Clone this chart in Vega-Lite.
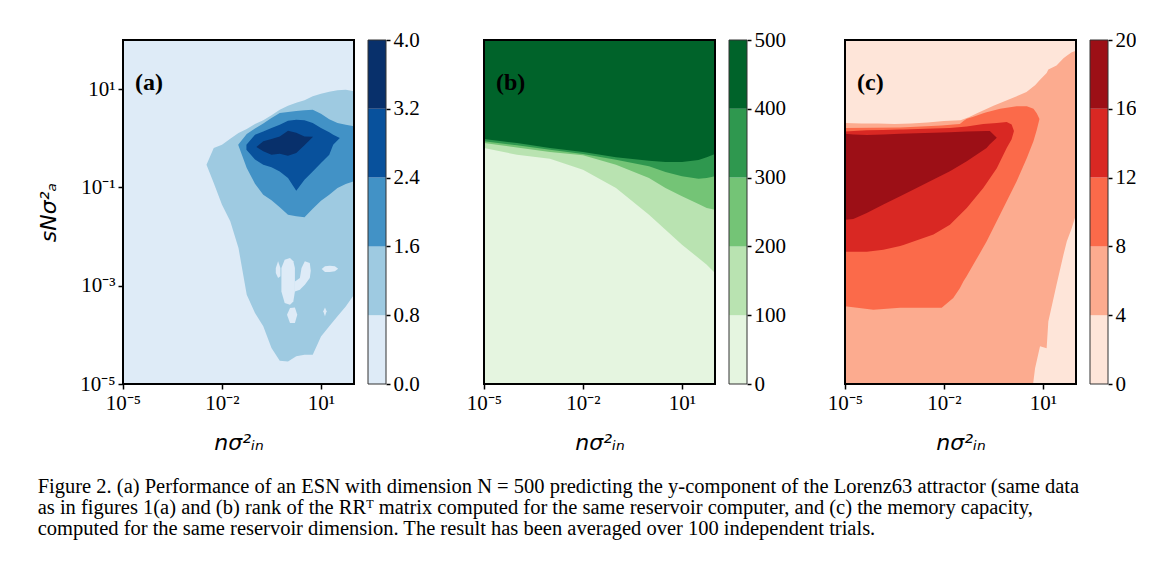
{
  "$schema": "https://vega.github.io/schema/vega-lite/v6.json",
  "background": "white",
  "padding": {"left": 37, "top": 29, "right": 0, "bottom": 0},
  "config": {
    "view": {"stroke": null},
    "legend": {"disable": true},
    "axis": {"grid": false, "domain": false, "labelColor": "black", "tickColor": "black", "labelFont": "Liberation Serif", "labelFontSize": 21, "titleColor": "black", "labelFlush": false, "labelOverlap": false, "tickWidth": 1.5}
  },
  "datasets": {
    "regions": [
      {"level":"a1","part":"a1","x":0.00339,"lo":0.29,"hi":0.29},
      {"level":"a1","part":"a1","x":0.00562,"lo":0.123,"hi":0.634},
      {"level":"a1","part":"a1","x":0.01,"lo":0.0446,"hi":0.741},
      {"level":"a1","part":"a1","x":0.0178,"lo":0.0204,"hi":0.982},
      {"level":"a1","part":"a1","x":0.0316,"lo":0.00585,"hi":1.28},
      {"level":"a1","part":"a1","x":0.0562,"lo":0.000656,"hi":1.55},
      {"level":"a1","part":"a1","x":0.1,"lo":0.000278,"hi":1.95},
      {"level":"a1","part":"a1","x":0.178,"lo":0.000149,"hi":2.32},
      {"level":"a1","part":"a1","x":0.316,"lo":0.0000538,"hi":2.93},
      {"level":"a1","part":"a1","x":0.562,"lo":0.0000298,"hi":3.82},
      {"level":"a1","part":"a1","x":1,"lo":0.0000288,"hi":4.6},
      {"level":"a1","part":"a1","x":1.78,"lo":0.0000365,"hi":5.31},
      {"level":"a1","part":"a1","x":3.16,"lo":0.0000394,"hi":5.92},
      {"level":"a1","part":"a1","x":5.62,"lo":0.0000394,"hi":7.13},
      {"level":"a1","part":"a1","x":10,"lo":0.0000931,"hi":8.09},
      {"level":"a1","part":"a1","x":17.8,"lo":0.000149,"hi":8.87},
      {"level":"a1","part":"a1","x":31.6,"lo":0.000238,"hi":9.46},
      {"level":"a1","part":"a1","x":56.2,"lo":0.000379,"hi":9.75},
      {"level":"a1","part":"a1","x":100,"lo":0.000656,"hi":9.02},

      {"level":"a0","part":"h1","x":0.427,"lo":0.00181,"hi":0.00229},
      {"level":"a0","part":"h1","x":0.501,"lo":0.00143,"hi":0.00313},
      {"level":"a0","part":"h1","x":0.589,"lo":0.00155,"hi":0.00229},
      {"level":"a0","part":"h2","x":0.631,"lo":0.000767,"hi":0.00229},
      {"level":"a0","part":"h2","x":0.794,"lo":0.000444,"hi":0.00338},
      {"level":"a0","part":"h2","x":1.15,"lo":0.00041,"hi":0.00366},
      {"level":"a0","part":"h2","x":1.45,"lo":0.00048,"hi":0.00313},
      {"level":"a0","part":"h2","x":1.62,"lo":0.000767,"hi":0.00229},
      {"level":"a0","part":"h3","x":1.62,"lo":0.000767,"hi":0.00122},
      {"level":"a0","part":"h3","x":2.29,"lo":0.00083,"hi":0.00143},
      {"level":"a0","part":"h3","x":2.57,"lo":0.000897,"hi":0.00229},
      {"level":"a0","part":"h3","x":3.24,"lo":0.00105,"hi":0.00313},
      {"level":"a0","part":"h3","x":4.57,"lo":0.00143,"hi":0.00289},
      {"level":"a0","part":"h3","x":4.9,"lo":0.00202,"hi":0.00202},
      {"level":"a0","part":"h4","x":10.5,"lo":0.00218,"hi":0.00218},
      {"level":"a0","part":"h4","x":13.2,"lo":0.0019,"hi":0.00248},
      {"level":"a0","part":"h4","x":18.6,"lo":0.0019,"hi":0.00255},
      {"level":"a0","part":"h4","x":26.3,"lo":0.00196,"hi":0.00248},
      {"level":"a0","part":"h4","x":33.1,"lo":0.00222,"hi":0.00222},
      {"level":"a0","part":"h5","x":0.933,"lo":0.000257,"hi":0.000257},
      {"level":"a0","part":"h5","x":1.15,"lo":0.000174,"hi":0.000351},
      {"level":"a0","part":"h5","x":1.62,"lo":0.000174,"hi":0.000362},
      {"level":"a0","part":"h5","x":1.91,"lo":0.000257,"hi":0.000257},
      {"level":"a0","part":"h6","x":11.7,"lo":0.000301,"hi":0.000301},
      {"level":"a0","part":"h6","x":13.2,"lo":0.000238,"hi":0.000362},
      {"level":"a0","part":"h6","x":14.8,"lo":0.000301,"hi":0.000301},

      {"level":"a2","part":"a2","x":0.0309,"lo":0.741,"hi":0.741},
      {"level":"a2","part":"a2","x":0.0562,"lo":0.248,"hi":1.22},
      {"level":"a2","part":"a2","x":0.1,"lo":0.119,"hi":1.59},
      {"level":"a2","part":"a2","x":0.178,"lo":0.0711,"hi":2.01},
      {"level":"a2","part":"a2","x":0.316,"lo":0.0546,"hi":2.58},
      {"level":"a2","part":"a2","x":0.562,"lo":0.0393,"hi":3.27},
      {"level":"a2","part":"a2","x":1,"lo":0.0279,"hi":3.42},
      {"level":"a2","part":"a2","x":1.78,"lo":0.0258,"hi":3.59},
      {"level":"a2","part":"a2","x":3.16,"lo":0.0246,"hi":3.7},
      {"level":"a2","part":"a2","x":5.62,"lo":0.0369,"hi":3.82},
      {"level":"a2","part":"a2","x":10,"lo":0.0537,"hi":3.17},
      {"level":"a2","part":"a2","x":17.8,"lo":0.0711,"hi":2.43},
      {"level":"a2","part":"a2","x":31.6,"lo":0.0973,"hi":2.05},
      {"level":"a2","part":"a2","x":56.2,"lo":0.117,"hi":1.89},
      {"level":"a2","part":"a2","x":100,"lo":0.133,"hi":1.75},

      {"level":"a3","part":"a3","x":0.055,"lo":0.586,"hi":0.741},
      {"level":"a3","part":"a3","x":0.1,"lo":0.372,"hi":1.18},
      {"level":"a3","part":"a3","x":0.178,"lo":0.29,"hi":1.38},
      {"level":"a3","part":"a3","x":0.316,"lo":0.256,"hi":1.62},
      {"level":"a3","part":"a3","x":0.562,"lo":0.212,"hi":1.89},
      {"level":"a3","part":"a3","x":1,"lo":0.155,"hi":2.28},
      {"level":"a3","part":"a3","x":1.78,"lo":0.0859,"hi":2.39},
      {"level":"a3","part":"a3","x":3.16,"lo":0.144,"hi":2.32},
      {"level":"a3","part":"a3","x":5.62,"lo":0.212,"hi":2.05},
      {"level":"a3","part":"a3","x":10,"lo":0.314,"hi":1.62},
      {"level":"a3","part":"a3","x":17.8,"lo":0.463,"hi":1.32},
      {"level":"a3","part":"a3","x":23.4,"lo":0.741,"hi":1.18},
      {"level":"a3","part":"a3","x":37.2,"lo":1.01,"hi":1.01},

      {"level":"a4","part":"a4","x":0.11,"lo":0.664,"hi":0.664},
      {"level":"a4","part":"a4","x":0.178,"lo":0.542,"hi":0.867},
      {"level":"a4","part":"a4","x":0.316,"lo":0.463,"hi":0.966},
      {"level":"a4","part":"a4","x":0.562,"lo":0.486,"hi":1.09},
      {"level":"a4","part":"a4","x":1,"lo":0.443,"hi":1.43},
      {"level":"a4","part":"a4","x":1.78,"lo":0.501,"hi":1.3},
      {"level":"a4","part":"a4","x":3.16,"lo":0.718,"hi":1.09},
      {"level":"a4","part":"a4","x":5.75,"lo":1.08,"hi":1.08},

      {"level":"b1","part":"b1","x":0.00001,"lo":0.634,"hi":100},
      {"level":"b1","part":"b1","x":0.0001,"lo":0.463,"hi":100},
      {"level":"b1","part":"b1","x":0.001,"lo":0.385,"hi":100},
      {"level":"b1","part":"b1","x":0.01,"lo":0.23,"hi":100},
      {"level":"b1","part":"b1","x":0.1,"lo":0.0973,"hi":100},
      {"level":"b1","part":"b1","x":1,"lo":0.0279,"hi":100},
      {"level":"b1","part":"b1","x":3.16,"lo":0.0138,"hi":100},
      {"level":"b1","part":"b1","x":10,"lo":0.00684,"hi":100},
      {"level":"b1","part":"b1","x":31.6,"lo":0.00366,"hi":100},
      {"level":"b1","part":"b1","x":56.2,"lo":0.00267,"hi":100},
      {"level":"b1","part":"b1","x":100,"lo":0.00181,"hi":100},

      {"level":"b2","part":"b2","x":0.00001,"lo":0.802,"hi":100},
      {"level":"b2","part":"b2","x":0.0001,"lo":0.653,"hi":100},
      {"level":"b2","part":"b2","x":0.001,"lo":0.525,"hi":100},
      {"level":"b2","part":"b2","x":0.01,"lo":0.45,"hi":100},
      {"level":"b2","part":"b2","x":0.1,"lo":0.29,"hi":100},
      {"level":"b2","part":"b2","x":1,"lo":0.155,"hi":100},
      {"level":"b2","part":"b2","x":3.16,"lo":0.0973,"hi":100},
      {"level":"b2","part":"b2","x":10,"lo":0.0658,"hi":100},
      {"level":"b2","part":"b2","x":31.6,"lo":0.0459,"hi":100},
      {"level":"b2","part":"b2","x":56.2,"lo":0.0381,"hi":100},
      {"level":"b2","part":"b2","x":100,"lo":0.0352,"hi":100},

      {"level":"b3","part":"b3","x":0.00001,"lo":0.867,"hi":100},
      {"level":"b3","part":"b3","x":0.0001,"lo":0.718,"hi":100},
      {"level":"b3","part":"b3","x":0.001,"lo":0.586,"hi":100},
      {"level":"b3","part":"b3","x":0.01,"lo":0.479,"hi":100},
      {"level":"b3","part":"b3","x":0.1,"lo":0.366,"hi":100},
      {"level":"b3","part":"b3","x":1,"lo":0.269,"hi":100},
      {"level":"b3","part":"b3","x":3.16,"lo":0.206,"hi":100},
      {"level":"b3","part":"b3","x":10,"lo":0.168,"hi":100},
      {"level":"b3","part":"b3","x":31.6,"lo":0.151,"hi":100},
      {"level":"b3","part":"b3","x":56.2,"lo":0.155,"hi":100},
      {"level":"b3","part":"b3","x":100,"lo":0.168,"hi":100},

      {"level":"b4","part":"b4","x":0.00001,"lo":0.966,"hi":100},
      {"level":"b4","part":"b4","x":0.0001,"lo":0.802,"hi":100},
      {"level":"b4","part":"b4","x":0.001,"lo":0.634,"hi":100},
      {"level":"b4","part":"b4","x":0.01,"lo":0.525,"hi":100},
      {"level":"b4","part":"b4","x":0.1,"lo":0.409,"hi":100},
      {"level":"b4","part":"b4","x":1,"lo":0.35,"hi":100},
      {"level":"b4","part":"b4","x":3.16,"lo":0.329,"hi":100},
      {"level":"b4","part":"b4","x":10,"lo":0.329,"hi":100},
      {"level":"b4","part":"b4","x":31.6,"lo":0.361,"hi":100},
      {"level":"b4","part":"b4","x":56.2,"lo":0.409,"hi":100},
      {"level":"b4","part":"b4","x":100,"lo":0.479,"hi":100},

      {"level":"c1","part":"c1","x":0.00001,"lo":0.00001,"hi":2.04},
      {"level":"c1","part":"c1","x":0.0000316,"lo":0.00001,"hi":2.0},
      {"level":"c1","part":"c1","x":0.0001,"lo":0.00001,"hi":2.0},
      {"level":"c1","part":"c1","x":0.000316,"lo":0.00001,"hi":1.95},
      {"level":"c1","part":"c1","x":0.001,"lo":0.00001,"hi":2.0},
      {"level":"c1","part":"c1","x":0.00316,"lo":0.00001,"hi":2.09},
      {"level":"c1","part":"c1","x":0.01,"lo":0.00001,"hi":2.24},
      {"level":"c1","part":"c1","x":0.0316,"lo":0.00001,"hi":2.34},
      {"level":"c1","part":"c1","x":0.0562,"lo":0.00001,"hi":2.69},
      {"level":"c1","part":"c1","x":0.1,"lo":0.00001,"hi":3.24},
      {"level":"c1","part":"c1","x":0.316,"lo":0.00001,"hi":4.57},
      {"level":"c1","part":"c1","x":1,"lo":0.00001,"hi":6.31},
      {"level":"c1","part":"c1","x":3.16,"lo":0.00001,"hi":8.71},
      {"level":"c1","part":"c1","x":5.01,"lo":0.00001,"hi":11.2},
      {"level":"c1","part":"c1","x":5.75,"lo":0.0000209,"hi":12.0},
      {"level":"c1","part":"c1","x":8.13,"lo":0.0000589,"hi":15.5},
      {"level":"c1","part":"c1","x":12.9,"lo":0.0000537,"hi":21.4},
      {"level":"c1","part":"c1","x":14.5,"lo":0.000186,"hi":25.1},
      {"level":"c1","part":"c1","x":25.7,"lo":0.00105,"hi":30.2},
      {"level":"c1","part":"c1","x":41.7,"lo":0.00427,"hi":42.7},
      {"level":"c1","part":"c1","x":52.5,"lo":0.00794,"hi":47.9},
      {"level":"c1","part":"c1","x":74.1,"lo":0.0148,"hi":56.2},
      {"level":"c1","part":"c1","x":100,"lo":0.0282,"hi":60.3},

      {"level":"c2","part":"c2","x":0.00001,"lo":0.00038,"hi":1.62},
      {"level":"c2","part":"c2","x":0.0000724,"lo":0.000324,"hi":1.64},
      {"level":"c2","part":"c2","x":0.000468,"lo":0.000355,"hi":1.66},
      {"level":"c2","part":"c2","x":0.00851,"lo":0.000355,"hi":1.82},
      {"level":"c2","part":"c2","x":0.0191,"lo":0.000562,"hi":1.91},
      {"level":"c2","part":"c2","x":0.0302,"lo":0.000891,"hi":1.95},
      {"level":"c2","part":"c2","x":0.0389,"lo":0.00123,"hi":2.24},
      {"level":"c2","part":"c2","x":0.049,"lo":0.00158,"hi":2.51},
      {"level":"c2","part":"c2","x":0.0776,"lo":0.00269,"hi":2.75},
      {"level":"c2","part":"c2","x":0.155,"lo":0.00603,"hi":3.24},
      {"level":"c2","part":"c2","x":0.195,"lo":0.00794,"hi":3.39},
      {"level":"c2","part":"c2","x":0.501,"lo":0.0282,"hi":3.98},
      {"level":"c2","part":"c2","x":1.58,"lo":0.132,"hi":4.47},
      {"level":"c2","part":"c2","x":3.24,"lo":0.398,"hi":4.47},
      {"level":"c2","part":"c2","x":5.13,"lo":0.871,"hi":3.98},
      {"level":"c2","part":"c2","x":6.46,"lo":1.48,"hi":3.24},
      {"level":"c2","part":"c2","x":7.76,"lo":2.4,"hi":2.51},

      {"level":"c3","part":"c3","x":0.00001,"lo":0.0049,"hi":1.38},
      {"level":"c3","part":"c3","x":0.0000457,"lo":0.0049,"hi":1.45},
      {"level":"c3","part":"c3","x":0.000145,"lo":0.00537,"hi":1.48},
      {"level":"c3","part":"c3","x":0.000468,"lo":0.00646,"hi":1.51},
      {"level":"c3","part":"c3","x":0.000589,"lo":0.00676,"hi":1.51},
      {"level":"c3","part":"c3","x":0.00479,"lo":0.011,"hi":1.58},
      {"level":"c3","part":"c3","x":0.0151,"lo":0.0174,"hi":1.62},
      {"level":"c3","part":"c3","x":0.049,"lo":0.038,"hi":1.74},
      {"level":"c3","part":"c3","x":0.155,"lo":0.0977,"hi":1.95},
      {"level":"c3","part":"c3","x":0.398,"lo":0.245,"hi":2.04},
      {"level":"c3","part":"c3","x":0.794,"lo":0.631,"hi":2.14},
      {"level":"c3","part":"c3","x":1.12,"lo":0.955,"hi":1.91},
      {"level":"c3","part":"c3","x":1.32,"lo":1.41,"hi":1.41},

      {"level":"c4","part":"c4","x":0.00001,"lo":0.0219,"hi":1.23},
      {"level":"c4","part":"c4","x":0.0000178,"lo":0.0229,"hi":1.2},
      {"level":"c4","part":"c4","x":0.0000457,"lo":0.0302,"hi":1.17},
      {"level":"c4","part":"c4","x":0.000145,"lo":0.0447,"hi":1.2},
      {"level":"c4","part":"c4","x":0.000468,"lo":0.0661,"hi":1.23},
      {"level":"c4","part":"c4","x":0.00148,"lo":0.0977,"hi":1.26},
      {"level":"c4","part":"c4","x":0.00479,"lo":0.145,"hi":1.29},
      {"level":"c4","part":"c4","x":0.0151,"lo":0.214,"hi":1.32},
      {"level":"c4","part":"c4","x":0.049,"lo":0.339,"hi":1.38},
      {"level":"c4","part":"c4","x":0.195,"lo":0.631,"hi":1.4},
      {"level":"c4","part":"c4","x":0.245,"lo":0.759,"hi":1.41},
      {"level":"c4","part":"c4","x":0.398,"lo":1.02,"hi":1.02}
    ],
    "bars": [
      {"panel":"a","level":"a0","lo":0,"hi":0.8},
      {"panel":"a","level":"a1","lo":0.8,"hi":1.6},
      {"panel":"a","level":"a2","lo":1.6,"hi":2.4},
      {"panel":"a","level":"a3","lo":2.4,"hi":3.2},
      {"panel":"a","level":"a4","lo":3.2,"hi":4.0},
      {"panel":"b","level":"b0","lo":0,"hi":100},
      {"panel":"b","level":"b1","lo":100,"hi":200},
      {"panel":"b","level":"b2","lo":200,"hi":300},
      {"panel":"b","level":"b3","lo":300,"hi":400},
      {"panel":"b","level":"b4","lo":400,"hi":500},
      {"panel":"c","level":"c0","lo":0,"hi":4},
      {"panel":"c","level":"c1","lo":4,"hi":8},
      {"panel":"c","level":"c2","lo":8,"hi":12},
      {"panel":"c","level":"c3","lo":12,"hi":16},
      {"panel":"c","level":"c4","lo":16,"hi":20}
    ],
    "labels": [
      {"panel":"a","label":"(a)"},
      {"panel":"b","label":"(b)"},
      {"panel":"c","label":"(c)"}
    ]
  },
  "title": {
    "text": [
      "Figure 2. (a) Performance of an ESN with dimension N = 500 predicting the y-component of the Lorenz63 attractor (same data",
      "as in figures 1(a) and (b) rank of the RRᵀ matrix computed for the same reservoir computer, and (c) the memory capacity,",
      "computed for the same reservoir dimension. The result has been averaged over 100 independent trials."
    ],
    "orient": "bottom",
    "anchor": "start",
    "frame": "bounds",
    "font": "Liberation Serif",
    "fontSize": 20.5,
    "fontWeight": "normal",
    "color": "black",
    "lineHeight": 21,
    "offset": 24
  },
  "spacing": 98,
  "bounds": "flush",
  "hconcat": [
    {
      "width": 263,
      "height": 344,
      "layer": [
        {
          "layer": [
            {
              "data": {"values": [{}]},
              "mark": {"type": "rect"},
              "encoding": {
                "x": {"datum": 0.00001, "type": "quantitative", "scale": {"type": "log", "domain": [0.00001, 100], "range": [0, 231], "nice": false},
                  "axis": {"values": [0.00001, 0.01, 10], "labelExpr": "datum.value < 0.001 ? '10⁻⁵' : datum.value < 1 ? '10⁻²' : '10¹'", "title": "nσ²ᵢₙ", "titleFont": "DejaVu Sans", "titleFontStyle": "italic", "titleFontWeight": "normal", "titleFontSize": 22, "titlePadding": 19, "tickSize": 5, "labelPadding": 3}},
                "x2": {"datum": 100},
                "y": {"datum": 0.00001, "type": "quantitative", "scale": {"type": "log", "domain": [0.00001, 100], "nice": false},
                  "axis": {"values": [0.00001, 0.001, 0.1, 10], "labelExpr": "datum.value < 0.0001 ? '10⁻⁵' : datum.value < 0.01 ? '10⁻³' : datum.value < 1 ? '10⁻¹' : '10¹'", "title": "sNσ²ₐ", "titleFont": "DejaVu Sans", "titleFontStyle": "italic", "titleFontWeight": "normal", "titleFontSize": 22, "titlePadding": 19, "tickSize": 5, "labelPadding": 3}},
                "y2": {"datum": 100},
                "color": {"datum": "a0", "type": "nominal",
                  "scale": {"domain": ["a0","a1","a2","a3","a4","b0","b1","b2","b3","b4","c0","c1","c2","c3","c4"],
                            "range": ["#deebf7","#9ecae1","#4292c6","#08519c","#08306b","#e5f5e0","#b9e3b1","#74c476","#2f984f","#00632a","#fee5d9","#fcab8f","#fb6a4a","#d92823","#9c0f16"]}}
              }
            },
            {"data": {"name": "regions"}, "transform": [{"filter": "datum.level == 'a1'"}], "mark": {"type": "area"},
             "encoding": {"x": {"field": "x", "type": "quantitative"}, "y": {"field": "lo", "type": "quantitative"}, "y2": {"field": "hi"}, "color": {"field": "level", "type": "nominal"}, "detail": {"field": "part"}}},
            {"data": {"name": "regions"}, "transform": [{"filter": "datum.level == 'a0'"}], "mark": {"type": "area"},
             "encoding": {"x": {"field": "x", "type": "quantitative"}, "y": {"field": "lo", "type": "quantitative"}, "y2": {"field": "hi"}, "color": {"field": "level", "type": "nominal"}, "detail": {"field": "part"}}},
            {"data": {"name": "regions"}, "transform": [{"filter": "datum.level == 'a2'"}], "mark": {"type": "area"},
             "encoding": {"x": {"field": "x", "type": "quantitative"}, "y": {"field": "lo", "type": "quantitative"}, "y2": {"field": "hi"}, "color": {"field": "level", "type": "nominal"}, "detail": {"field": "part"}}},
            {"data": {"name": "regions"}, "transform": [{"filter": "datum.level == 'a3'"}], "mark": {"type": "area"},
             "encoding": {"x": {"field": "x", "type": "quantitative"}, "y": {"field": "lo", "type": "quantitative"}, "y2": {"field": "hi"}, "color": {"field": "level", "type": "nominal"}, "detail": {"field": "part"}}},
            {"data": {"name": "regions"}, "transform": [{"filter": "datum.level == 'a4'"}], "mark": {"type": "area"},
             "encoding": {"x": {"field": "x", "type": "quantitative"}, "y": {"field": "lo", "type": "quantitative"}, "y2": {"field": "hi"}, "color": {"field": "level", "type": "nominal"}, "detail": {"field": "part"}}},
            {"data": {"values": [{}]}, "mark": {"type": "rect", "filled": false, "stroke": "black", "strokeWidth": 2},
             "encoding": {"x": {"datum": 0.00001, "type": "quantitative"}, "x2": {"datum": 100}, "y": {"datum": 0.00001, "type": "quantitative"}, "y2": {"datum": 100}}},
            {"data": {"name": "labels"}, "transform": [{"filter": "datum.panel == 'a'"}],
             "mark": {"type": "text", "font": "Liberation Serif", "fontWeight": "bold", "fontSize": 24, "align": "left", "baseline": "middle", "color": "black"},
             "encoding": {"x": {"datum": 0.0000231, "type": "quantitative"}, "y": {"datum": 13.2, "type": "quantitative"}, "text": {"field": "label"}}}
          ]
        },
        {
          "data": {"name": "bars"},
          "transform": [{"filter": "datum.panel == 'a'"}],
          "layer": [
            {"mark": {"type": "rect"},
             "encoding": {
               "x": {"datum": 0, "type": "quantitative", "scale": {"domain": [0, 1], "range": [245, 263], "nice": false, "zero": false}, "axis": null},
               "x2": {"datum": 1},
               "y": {"field": "lo", "type": "quantitative", "scale": {"domain": [0, 4], "nice": false}, "axis": {"orient": "right", "values": [0, 0.8, 1.6, 2.4, 3.2, 4], "format": ".1f", "title": null, "tickSize": 4, "labelPadding": 3}},
               "y2": {"field": "hi"},
               "color": {"field": "level", "type": "nominal"}
             }},
            {"data": {"values": [{}]}, "mark": {"type": "rect", "filled": false, "stroke": "#333333", "strokeWidth": 1},
             "encoding": {"x": {"datum": 0, "type": "quantitative"}, "x2": {"datum": 1}, "y": {"datum": 0, "type": "quantitative"}, "y2": {"datum": 4}}}
          ]
        }
      ],
      "resolve": {"scale": {"x": "independent", "y": "independent"}}
    },
    {
      "width": 263,
      "height": 344,
      "layer": [
        {
          "layer": [
            {
              "data": {"values": [{}]},
              "mark": {"type": "rect"},
              "encoding": {
                "x": {"datum": 0.00001, "type": "quantitative", "scale": {"type": "log", "domain": [0.00001, 100], "range": [0, 231], "nice": false},
                  "axis": {"values": [0.00001, 0.01, 10], "labelExpr": "datum.value < 0.001 ? '10⁻⁵' : datum.value < 1 ? '10⁻²' : '10¹'", "title": "nσ²ᵢₙ", "titleFont": "DejaVu Sans", "titleFontStyle": "italic", "titleFontWeight": "normal", "titleFontSize": 22, "titlePadding": 19, "tickSize": 5, "labelPadding": 3}},
                "x2": {"datum": 100},
                "y": {"datum": 0.00001, "type": "quantitative", "scale": {"type": "log", "domain": [0.00001, 100], "nice": false}, "axis": null},
                "y2": {"datum": 100},
                "color": {"datum": "b0", "type": "nominal",
                  "scale": {"domain": ["a0","a1","a2","a3","a4","b0","b1","b2","b3","b4","c0","c1","c2","c3","c4"],
                            "range": ["#deebf7","#9ecae1","#4292c6","#08519c","#08306b","#e5f5e0","#b9e3b1","#74c476","#2f984f","#00632a","#fee5d9","#fcab8f","#fb6a4a","#d92823","#9c0f16"]}}
              }
            },
            {"data": {"name": "regions"}, "transform": [{"filter": "datum.level == 'b1'"}], "mark": {"type": "area"},
             "encoding": {"x": {"field": "x", "type": "quantitative"}, "y": {"field": "lo", "type": "quantitative"}, "y2": {"field": "hi"}, "color": {"field": "level", "type": "nominal"}, "detail": {"field": "part"}}},
            {"data": {"name": "regions"}, "transform": [{"filter": "datum.level == 'b2'"}], "mark": {"type": "area"},
             "encoding": {"x": {"field": "x", "type": "quantitative"}, "y": {"field": "lo", "type": "quantitative"}, "y2": {"field": "hi"}, "color": {"field": "level", "type": "nominal"}, "detail": {"field": "part"}}},
            {"data": {"name": "regions"}, "transform": [{"filter": "datum.level == 'b3'"}], "mark": {"type": "area"},
             "encoding": {"x": {"field": "x", "type": "quantitative"}, "y": {"field": "lo", "type": "quantitative"}, "y2": {"field": "hi"}, "color": {"field": "level", "type": "nominal"}, "detail": {"field": "part"}}},
            {"data": {"name": "regions"}, "transform": [{"filter": "datum.level == 'b4'"}], "mark": {"type": "area"},
             "encoding": {"x": {"field": "x", "type": "quantitative"}, "y": {"field": "lo", "type": "quantitative"}, "y2": {"field": "hi"}, "color": {"field": "level", "type": "nominal"}, "detail": {"field": "part"}}},
            {"data": {"values": [{}]}, "mark": {"type": "rect", "filled": false, "stroke": "black", "strokeWidth": 2},
             "encoding": {"x": {"datum": 0.00001, "type": "quantitative"}, "x2": {"datum": 100}, "y": {"datum": 0.00001, "type": "quantitative"}, "y2": {"datum": 100}}},
            {"data": {"name": "labels"}, "transform": [{"filter": "datum.panel == 'b'"}],
             "mark": {"type": "text", "font": "Liberation Serif", "fontWeight": "bold", "fontSize": 24, "align": "left", "baseline": "middle", "color": "black"},
             "encoding": {"x": {"datum": 0.0000231, "type": "quantitative"}, "y": {"datum": 13.2, "type": "quantitative"}, "text": {"field": "label"}}}
          ]
        },
        {
          "data": {"name": "bars"},
          "transform": [{"filter": "datum.panel == 'b'"}],
          "layer": [
            {"mark": {"type": "rect"},
             "encoding": {
               "x": {"datum": 0, "type": "quantitative", "scale": {"domain": [0, 1], "range": [245, 263], "nice": false, "zero": false}, "axis": null},
               "x2": {"datum": 1},
               "y": {"field": "lo", "type": "quantitative", "scale": {"domain": [0, 500], "nice": false}, "axis": {"orient": "right", "values": [0, 100, 200, 300, 400, 500], "format": "d", "title": null, "tickSize": 4, "labelPadding": 3}},
               "y2": {"field": "hi"},
               "color": {"field": "level", "type": "nominal"}
             }},
            {"data": {"values": [{}]}, "mark": {"type": "rect", "filled": false, "stroke": "#333333", "strokeWidth": 1},
             "encoding": {"x": {"datum": 0, "type": "quantitative"}, "x2": {"datum": 1}, "y": {"datum": 0, "type": "quantitative"}, "y2": {"datum": 500}}}
          ]
        }
      ],
      "resolve": {"scale": {"x": "independent", "y": "independent"}}
    },
    {
      "width": 263,
      "height": 344,
      "layer": [
        {
          "layer": [
            {
              "data": {"values": [{}]},
              "mark": {"type": "rect"},
              "encoding": {
                "x": {"datum": 0.00001, "type": "quantitative", "scale": {"type": "log", "domain": [0.00001, 100], "range": [0, 231], "nice": false},
                  "axis": {"values": [0.00001, 0.01, 10], "labelExpr": "datum.value < 0.001 ? '10⁻⁵' : datum.value < 1 ? '10⁻²' : '10¹'", "title": "nσ²ᵢₙ", "titleFont": "DejaVu Sans", "titleFontStyle": "italic", "titleFontWeight": "normal", "titleFontSize": 22, "titlePadding": 19, "tickSize": 5, "labelPadding": 3}},
                "x2": {"datum": 100},
                "y": {"datum": 0.00001, "type": "quantitative", "scale": {"type": "log", "domain": [0.00001, 100], "nice": false}, "axis": null},
                "y2": {"datum": 100},
                "color": {"datum": "c0", "type": "nominal",
                  "scale": {"domain": ["a0","a1","a2","a3","a4","b0","b1","b2","b3","b4","c0","c1","c2","c3","c4"],
                            "range": ["#deebf7","#9ecae1","#4292c6","#08519c","#08306b","#e5f5e0","#b9e3b1","#74c476","#2f984f","#00632a","#fee5d9","#fcab8f","#fb6a4a","#d92823","#9c0f16"]}}
              }
            },
            {"data": {"name": "regions"}, "transform": [{"filter": "datum.level == 'c1'"}], "mark": {"type": "area"},
             "encoding": {"x": {"field": "x", "type": "quantitative"}, "y": {"field": "lo", "type": "quantitative"}, "y2": {"field": "hi"}, "color": {"field": "level", "type": "nominal"}, "detail": {"field": "part"}}},
            {"data": {"name": "regions"}, "transform": [{"filter": "datum.level == 'c2'"}], "mark": {"type": "area"},
             "encoding": {"x": {"field": "x", "type": "quantitative"}, "y": {"field": "lo", "type": "quantitative"}, "y2": {"field": "hi"}, "color": {"field": "level", "type": "nominal"}, "detail": {"field": "part"}}},
            {"data": {"name": "regions"}, "transform": [{"filter": "datum.level == 'c3'"}], "mark": {"type": "area"},
             "encoding": {"x": {"field": "x", "type": "quantitative"}, "y": {"field": "lo", "type": "quantitative"}, "y2": {"field": "hi"}, "color": {"field": "level", "type": "nominal"}, "detail": {"field": "part"}}},
            {"data": {"name": "regions"}, "transform": [{"filter": "datum.level == 'c4'"}], "mark": {"type": "area"},
             "encoding": {"x": {"field": "x", "type": "quantitative"}, "y": {"field": "lo", "type": "quantitative"}, "y2": {"field": "hi"}, "color": {"field": "level", "type": "nominal"}, "detail": {"field": "part"}}},
            {"data": {"values": [{}]}, "mark": {"type": "rect", "filled": false, "stroke": "black", "strokeWidth": 2},
             "encoding": {"x": {"datum": 0.00001, "type": "quantitative"}, "x2": {"datum": 100}, "y": {"datum": 0.00001, "type": "quantitative"}, "y2": {"datum": 100}}},
            {"data": {"name": "labels"}, "transform": [{"filter": "datum.panel == 'c'"}],
             "mark": {"type": "text", "font": "Liberation Serif", "fontWeight": "bold", "fontSize": 24, "align": "left", "baseline": "middle", "color": "black"},
             "encoding": {"x": {"datum": 0.0000231, "type": "quantitative"}, "y": {"datum": 13.2, "type": "quantitative"}, "text": {"field": "label"}}}
          ]
        },
        {
          "data": {"name": "bars"},
          "transform": [{"filter": "datum.panel == 'c'"}],
          "layer": [
            {"mark": {"type": "rect"},
             "encoding": {
               "x": {"datum": 0, "type": "quantitative", "scale": {"domain": [0, 1], "range": [245, 263], "nice": false, "zero": false}, "axis": null},
               "x2": {"datum": 1},
               "y": {"field": "lo", "type": "quantitative", "scale": {"domain": [0, 20], "nice": false}, "axis": {"orient": "right", "values": [0, 4, 8, 12, 16, 20], "format": "d", "title": null, "tickSize": 4, "labelPadding": 3}},
               "y2": {"field": "hi"},
               "color": {"field": "level", "type": "nominal"}
             }},
            {"data": {"values": [{}]}, "mark": {"type": "rect", "filled": false, "stroke": "#333333", "strokeWidth": 1},
             "encoding": {"x": {"datum": 0, "type": "quantitative"}, "x2": {"datum": 1}, "y": {"datum": 0, "type": "quantitative"}, "y2": {"datum": 20}}}
          ]
        }
      ],
      "resolve": {"scale": {"x": "independent", "y": "independent"}}
    }
  ]
}
